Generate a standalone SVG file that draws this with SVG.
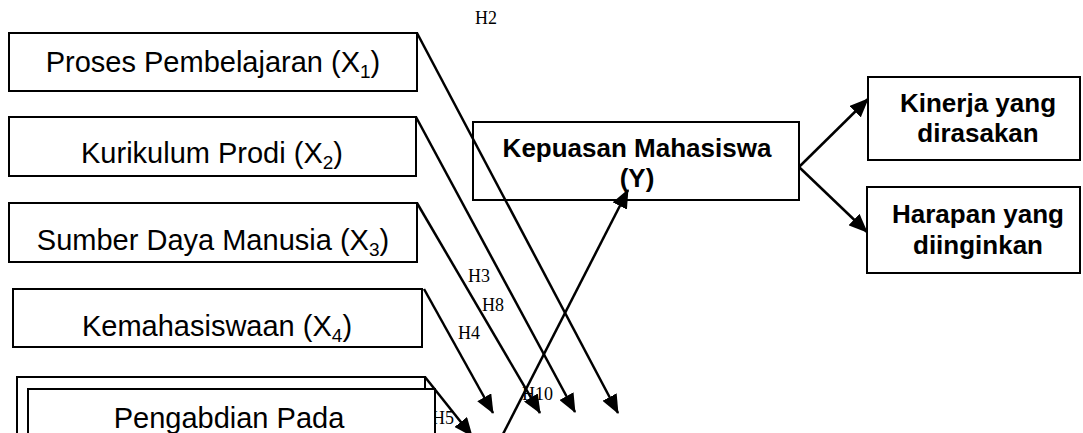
<svg xmlns="http://www.w3.org/2000/svg" width="1083" height="433" viewBox="0 0 1083 433">
  <style>
    .box { fill: #ffffff; stroke: #000000; stroke-width: 2; }
    .hollow { fill: none; stroke: #000000; stroke-width: 2; }
    .lbl { font-family: "Liberation Sans", Arial, sans-serif; font-size: 29px; fill: #000000; text-anchor: middle; }
    .bold { font-family: "Liberation Sans", Arial, sans-serif; font-size: 26px; font-weight: bold; fill: #000000; text-anchor: middle; }
    .sub { font-size: 19px; }
    .hyp { font-family: "Liberation Serif", "Times New Roman", serif; font-size: 18px; fill: #000000; }
    .link { stroke: #000000; stroke-width: 2.5; fill: none; marker-end: url(#arrow); }
  </style>
  <defs>
    <marker id="arrow" markerUnits="userSpaceOnUse" markerWidth="19" markerHeight="16" refX="18" refY="8" orient="auto">
      <path d="M0,0 L19,8 L0,16 Z" fill="#000000"/>
    </marker>
  </defs>
  <rect width="1083" height="433" fill="#ffffff"/>

  <!-- hypothesis labels -->
  <g id="hypothesis-labels">
    <text class="hyp" x="475" y="24">H2</text>
    <text class="hyp" x="468" y="282">H3</text>
    <text class="hyp" x="482" y="311">H8</text>
    <text class="hyp" x="458" y="339">H4</text>
    <text class="hyp" x="522" y="400">H10</text>
    <text class="hyp" x="432" y="424">H5</text>
  </g>

  <!-- independent variables -->
  <g id="x1">
    <rect class="box" x="9" y="33" width="408" height="58"/>
    <text class="lbl" x="213" y="72">Proses Pembelajaran (X<tspan class="sub" dy="6">1</tspan><tspan dy="-6">)</tspan></text>
  </g>
  <g id="x2">
    <rect class="box" x="9" y="117" width="407" height="59"/>
    <text class="lbl" x="212" y="163">Kurikulum Prodi (X<tspan class="sub" dy="6">2</tspan><tspan dy="-6">)</tspan></text>
  </g>
  <g id="x3">
    <rect class="box" x="9" y="203" width="408" height="59"/>
    <text class="lbl" x="213" y="250">Sumber Daya Manusia (X<tspan class="sub" dy="6">3</tspan><tspan dy="-6">)</tspan></text>
  </g>
  <g id="x4">
    <rect class="box" x="13" y="289" width="409" height="58"/>
    <text class="lbl" x="217" y="336">Kemahasiswaan (X<tspan class="sub" dy="6">4</tspan><tspan dy="-6">)</tspan></text>
  </g>
  <g id="x5">
    <rect class="box" x="17" y="377" width="408" height="70"/>
    <rect class="box" x="28" y="389" width="407" height="60"/>
    <text class="lbl" x="229" y="428">Pengabdian Pada</text>
  </g>

  <!-- dependent variable and its dimensions -->
  <g id="y">
    <rect class="hollow" x="473" y="122" width="326" height="78"/>
    <text class="bold" x="637" y="157">Kepuasan Mahasiswa</text>
    <text class="bold" x="637" y="187">(Y)</text>
  </g>
  <g id="kinerja">
    <rect class="box" x="868" y="77" width="212" height="83"/>
    <text class="bold" x="978" y="112">Kinerja yang</text>
    <text class="bold" x="978" y="142">dirasakan</text>
  </g>
  <g id="harapan">
    <rect class="box" x="867" y="187" width="213" height="86"/>
    <text class="bold" x="978" y="223">Harapan yang</text>
    <text class="bold" x="978" y="254">diinginkan</text>
  </g>

  <!-- connectors -->
  <g id="connectors">
    <line class="link" x1="417" y1="33" x2="618" y2="413"/>
    <line class="link" x1="416" y1="117" x2="575" y2="412"/>
    <line class="link" x1="417" y1="203" x2="540" y2="413"/>
    <line class="link" x1="424" y1="289" x2="493" y2="413"/>
    <line class="link" x1="425" y1="377" x2="472" y2="436"/>
    <line class="link" x1="502" y1="436" x2="628" y2="190"/>
    <line class="link" x1="799" y1="167" x2="868" y2="99"/>
    <line class="link" x1="799" y1="167" x2="867" y2="232"/>
  </g>
</svg>
